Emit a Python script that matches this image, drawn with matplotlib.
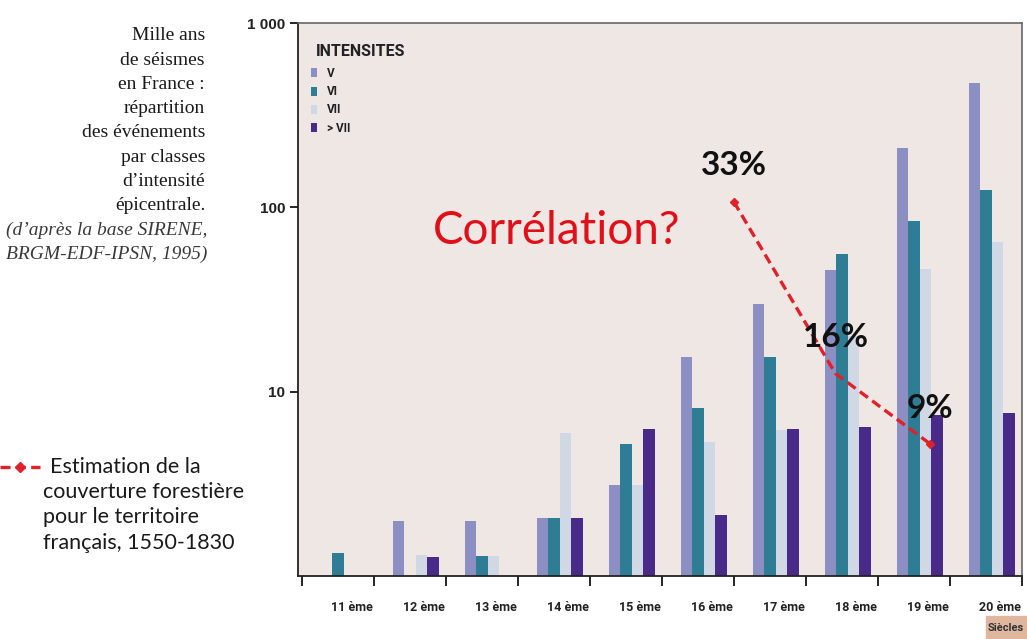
import numpy as np
import matplotlib
matplotlib.use("Agg")
import matplotlib.pyplot as plt
from matplotlib.lines import Line2D
from matplotlib.patches import Rectangle

# nombre de seismes par siecle et par classe d'intensite
siecles = ["11 ème", "12 ème", "13 ème", "14 ème", "15 ème",
           "16 ème", "17 ème", "18 ème", "19 ème", "20 ème"]
intens_V = [np.nan, 2.0, 2.0, 2.06, 3.1, 15.4, 30.0, 45.5, 211, 470]
intens_VI = [1.33, np.nan, 1.28, 2.06, 5.2, 8.2, 15.4, 55.6, 84, 124]
intens_VII = [np.nan, 1.3, 1.28, 6.0, 3.1, 5.3, 6.2, 20.0, 46, 65]
intens_sup_VII = [np.nan, 1.27, np.nan, 2.06, 6.3, 2.14, 6.3, 6.4, 7.5, 7.7]
series_labels = ["V", "VI", "VII", "> VII"]
yticks = [10, 100, 1000]
ytick_labels = ["10", "100", "1 000"]

# couverture forestiere (%)
forest_year = [1600, 1741, 1873]
forest_pct = [33, 16, 9]

colors = ["#8b8fc2", "#2e7d94", "#d0d8e6", "#4a2a88"]
bg = "#eee7e3"
narrow = ["Roboto", "DejaVu Sans"]
calibri = ["Lato", "DejaVu Sans"]

fig = plt.figure(figsize=(10.27, 6.39), dpi=100)
fig.patch.set_facecolor("white")
ax = fig.add_axes([0.290, 0.0986, 0.705, 0.8654])
ax.set_facecolor(bg)

x = np.arange(len(siecles))
w = 0.159
start = 0.265 + w / 2
bars = []
for k, vals in enumerate([intens_V, intens_VI, intens_VII, intens_sup_VII]):
    b = ax.bar(x + start + k * w, vals, width=w, color=colors[k],
               label=series_labels[k], linewidth=0)
    bars.append(b)

ax.set_yscale("log")
ax.set_ylim(1, 1000)
ax.set_xlim(-0.055, 9.96)

ax.set_yticks(yticks)
ax.set_yticklabels(ytick_labels)
ax.yaxis.set_minor_locator(matplotlib.ticker.NullLocator())
ax.tick_params(axis="y", which="major", direction="out", length=6, width=1.2,
               pad=3, labelsize=11)
for t in ax.get_yticklabels():
    t.set_fontweight("bold")
    t.set_family(["Liberation Sans", "DejaVu Sans"])
    t.set_color("#222222")

ax.set_xticks(np.arange(0, 11))
ax.set_xticklabels([])
ax.set_xticks(x + 0.70, siecles, minor=True)
ax.tick_params(axis="x", which="major", direction="out", length=7, width=1.2)
ax.tick_params(axis="x", which="minor", length=0, pad=18, labelsize=9)
for t in ax.get_xticklabels(minor=True):
    t.set_fontweight("bold")
    t.set_family(narrow)
    t.set_color("#222222")

for s in ["left", "bottom"]:
    ax.spines[s].set_linewidth(1.3)
    ax.spines[s].set_color("#222222")
for s in ["top", "right"]:
    ax.spines[s].set_linewidth(1.2)
    ax.spines[s].set_color("#666666")

ax.text(0.025, 0.949, "INTENSITES", transform=ax.transAxes, ha="left",
        va="center", family=narrow, fontweight="bold", fontsize=11.5,
        color="#222222")
leg = ax.legend(handles=bars, labels=series_labels,
                loc="upper left", bbox_to_anchor=(0.003, 0.940), frameon=False,
                handlelength=0.55, handleheight=0.8,
                handletextpad=0.8, labelspacing=0.45,
                prop={"family": narrow, "weight": "bold", "size": 8.5})
for t in leg.get_texts():
    t.set_color("#222222")

# courbe forestiere sur un axe secondaire
ax2 = ax.twinx()
ax2.set_ylim(-4.06, 50.7)
ax2.set_xlim(ax.get_xlim())
ax2.axis("off")
fx = [(yr - 1000) / 100 for yr in forest_year]
ax2.plot(fx, forest_pct, color="#e0202a", linestyle=(0, (3, 1.6)),
         linewidth=2.4, marker="D", markersize=4.5, markevery=[0, 2])
for xi, p in zip(fx, forest_pct):
    ax2.annotate(f"{p}%", (xi, p), xytext=(0, 36), textcoords="offset pixels",
                 ha="center", va="center", fontsize=24, fontweight="bold",
                 family=calibri, color="#111111")

ax.text(0.358, 0.623, "Corrélation?", transform=ax.transAxes, color="#e0101a",
        fontsize=33, family=calibri, ha="center", va="center")

# texte de gauche
lines = ["Mille ans", "de séismes", "en France :", "répartition",
         "des événements", "par classes", "d’intensité", "épicentrale."]
for i, ln in enumerate(lines):
    fig.text(205 / 1027, 1 - (36 + 24.2 * i) / 639, ln, ha="right",
             va="center", fontsize=14, family=["Liberation Serif"],
             color="#1a1a1a")
for i, ln in enumerate(["(d’après la base SIRENE,", "BRGM-EDF-IPSN, 1995)"]):
    fig.text(207 / 1027, 1 - (230 + 24.2 * i) / 639, ln, ha="right",
             va="center", fontsize=14, family=["Liberation Serif"],
             style="italic", color="#3a3a3a")

# legende de la courbe
yl = 1 - 467 / 639
fig.add_artist(Line2D([0.0, 40 / 1027], [yl, yl], transform=fig.transFigure,
                      color="#e0202a", linestyle=(0, (3, 1.6)), linewidth=2.4))
fig.add_artist(Line2D([20 / 1027], [yl], transform=fig.transFigure,
                      color="#e0202a", marker="D", markersize=5))
fig.text(50 / 1027, yl, "Estimation de la", ha="left", va="center",
         fontsize=15.5, family=calibri, color="#1a1a1a")
for i, ln in enumerate(["couverture forestière", "pour le territoire",
                        "français, 1550-1830"]):
    fig.text(43 / 1027, 1 - (492 + 25.3 * i) / 639, ln, ha="left",
             va="center", fontsize=15.5, family=calibri, color="#1a1a1a")

# etiquette siecles
fig.add_artist(Rectangle((986 / 1027, 0), 41 / 1027, 23 / 639,
                         transform=fig.transFigure, color="#dfb79e"))
fig.text(1006 / 1027, 11 / 639, "Siècles", ha="center", va="center",
         fontsize=8, fontweight="bold", family=narrow, color="#333333")

fig.savefig("out.png", dpi=100)
